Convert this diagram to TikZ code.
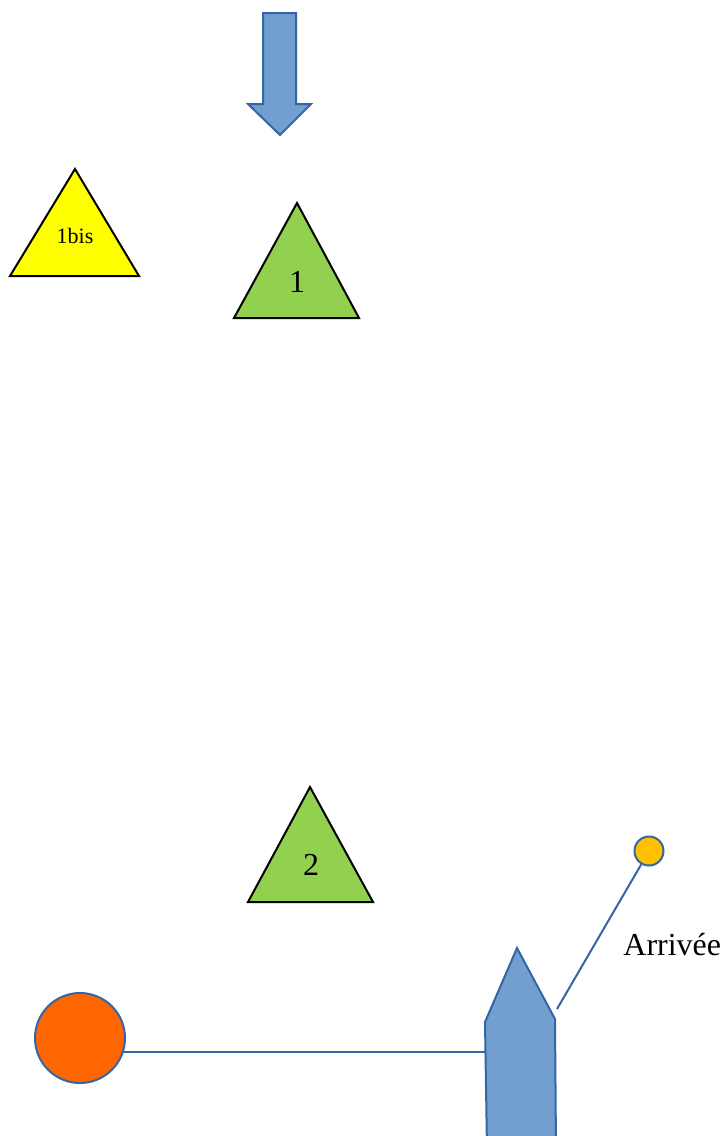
\documentclass[tikz,border=0pt]{standalone}
\usepackage{fontspec}
\setmainfont{Liberation Serif}
\usetikzlibrary{backgrounds}
\definecolor{markblue}{HTML}{729FCF}
\definecolor{lineblue}{HTML}{3465A4}
\definecolor{markgreen}{HTML}{92D050}
\definecolor{markyellow}{HTML}{FFFF00}
\definecolor{startorange}{HTML}{FF6600}
\definecolor{finishgold}{HTML}{FFC000}

\begin{document}
\begin{tikzpicture}[
    x=0.5pt, y=-0.5pt,
    buoy/.style={draw=black, line width=1pt, line join=miter},
    buoylabel/.style={anchor=base, inner sep=0pt, font=\fontsize{16}{19}\selectfont},
    pin/.style={circle, draw=lineblue, line width=1pt, inner sep=0pt},
    course/.style={draw=lineblue, line width=1pt},
    bluefill/.style={fill=markblue, draw=lineblue, line width=1pt, line join=miter}
]

% PAGE - fixes the margins and cuts the hull at the bottom
\clip (0,0) rectangle (725,1136);

% WIND ARROW
\draw[bluefill] (263,13) -- (296,13) -- (296,104) -- (311,104) -- (280,135)
    -- (248,104) -- (263,104) -- cycle;

% MARKS
\draw[buoy, fill=markyellow] (75,169) -- (139,276) -- (10,276) -- cycle;
\node[buoylabel, font=\fontsize{11}{13}\selectfont] (mark1bis) at (75,243) {1bis};

\draw[buoy, fill=markgreen] (297,203) -- (359,318) -- (234,318) -- cycle;
\node[buoylabel] (mark1) at (297,292) {1};

\draw[buoy, fill=markgreen] (310,787) -- (373,902) -- (248,902) -- cycle;
\node[buoylabel] (mark2) at (311,875) {2};

% START AND FINISH PINS
\node[pin, fill=startorange, minimum size=45pt] (start) at (80,1038) {};
\node[pin, fill=finishgold, minimum size=14.5pt] (finish) at (649,851) {};
\node[buoylabel, anchor=base west] (finishlabel) at (623,955) {Arrivée};

% HULL
\coordinate (bow) at (517,948);
\coordinate (portside) at (485,1022);
\coordinate (starboard) at (555,1019);
\draw[bluefill] (bow) -- (starboard) -- (556,1150) -- (487,1150) -- (portside) -- cycle;

% LINES
\coordinate (portline) at (485,1052);
\coordinate (starline) at (557,1009);
\begin{scope}[on background layer]
    \draw[course] (start.center |- portline) -- (portline);
\end{scope}
\draw[course] (starline) -- (finish);

\end{tikzpicture}
\end{document}
